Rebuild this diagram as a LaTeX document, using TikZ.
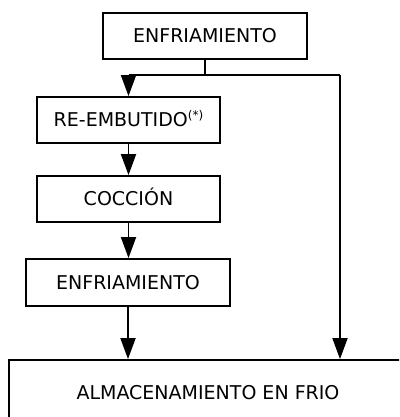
\documentclass[tikz,border=0pt]{standalone}
\usepackage{fontspec}
\setmainfont{DejaVu Sans}
\usetikzlibrary{arrows.meta,positioning}

\begin{document}
\begin{tikzpicture}[x=1pt,y=1pt,
        box/.style={draw,line width=1.8pt,minimum height=46pt,inner sep=0pt,
            text height=13.9pt,text depth=0pt,font=\fontsize{19}{22}\selectfont},
        arr/.style={-{Triangle[width=15pt,length=21pt]},line width=1.8pt}]
        \useasboundingbox (0,0) rectangle (399,-417);
        \clip (0,0) rectangle (399,-417);
        \node[box,minimum width=204pt] (enfrA) at (205,-36) {ENFRIAMIENTO};
        \node[box,minimum width=183pt] (reemb) at (128.5,-120) {RE-EMBUTIDO\raisebox{7pt}{\fontsize{12}{14}\selectfont(*)}};
        \node[box,minimum width=183pt] (cocc) at (128.5,-199) {COCCIÓN};
        \node[box,minimum width=204pt,minimum height=47pt] (enfrB) at (128,-282.5) {ENFRIAMIENTO};
        \node[box,minimum width=398pt,minimum height=66pt] (almac) at (208,-393) {ALMACENAMIENTO EN FRIO};
        \coordinate (split) at (enfrA.south |- 0,-75);
        \coordinate (lft) at (reemb.north |- split);
        \coordinate (rgt) at (340,-75);
        \draw[line width=1.8pt] (enfrA.south) -- (split);
        \draw[line width=1.8pt] (lft) -- (rgt);
        \draw[arr] (lft) -- (reemb.north);
        \draw[arr] (reemb.south) -- (cocc.north);
        \draw[arr] (cocc.south) -- (cocc.south |- enfrB.north);
        \draw[arr] (enfrB.south) -- (enfrB.south |- almac.north);
        \draw[arr] (rgt) -- (rgt |- almac.north);
    \end{tikzpicture}
\end{document}
